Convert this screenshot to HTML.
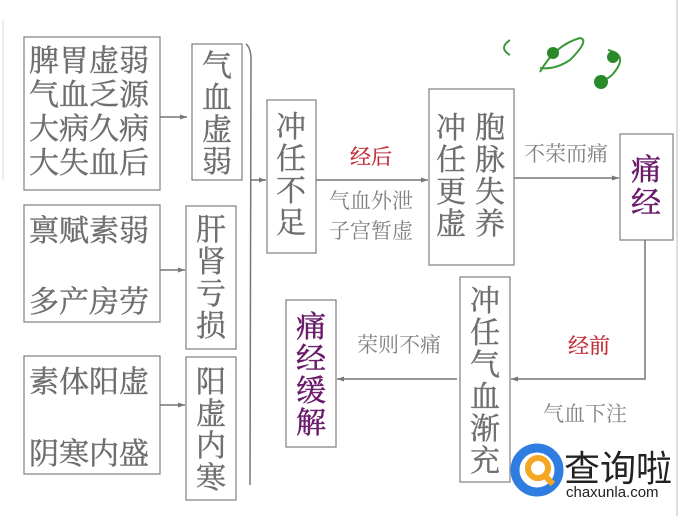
<!DOCTYPE html>
<html><head><meta charset="utf-8"><style>
html,body{margin:0;padding:0;background:#fff;}
svg{display:block;}
text{font-family:"Liberation Serif","Noto Serif CJK SC","Noto Sans CJK SC",serif;}
</style></head><body>
<svg width="681" height="516" viewBox="0 0 681 516" xmlns="http://www.w3.org/2000/svg">
<defs><marker id="ah" markerWidth="8" markerHeight="8" refX="7" refY="4" orient="auto" markerUnits="userSpaceOnUse"><path d="M0,1.5 L7,4 L0,6.5 z" fill="#777"/></marker></defs>
<rect width="681" height="516" fill="#fff"/>
<line x1="677" y1="0" x2="677" y2="516" stroke="#ddd" stroke-width="2"/>
<line x1="3" y1="20" x2="3" y2="180" stroke="#eee" stroke-width="2"/>
<g fill="none" stroke="#888" stroke-width="1.3">
<rect x="24" y="37" width="136" height="153"/>
<rect x="192" y="44" width="50" height="136"/>
<rect x="267" y="100" width="49" height="153"/>
<rect x="24" y="205" width="136" height="117"/>
<rect x="186" y="206" width="50" height="143"/>
<rect x="24" y="356" width="136" height="118"/>
<rect x="186" y="357" width="50" height="143"/>
<rect x="429" y="89" width="85" height="176"/>
<rect x="620" y="134" width="53" height="106"/>
<rect x="460" y="277" width="50" height="205"/>
<rect x="286" y="300" width="50" height="147"/>
</g>
<g stroke="#777" stroke-width="1.5" fill="none">
<path d="M246,44 Q251,48 251,60 L250,485"/>
<line x1="160" y1="117" x2="187" y2="117" marker-end="url(#ah)"/>
<line x1="160" y1="270" x2="185" y2="270" marker-end="url(#ah)"/>
<line x1="160" y1="405" x2="185" y2="405" marker-end="url(#ah)"/>
<line x1="250" y1="180" x2="266" y2="180" marker-end="url(#ah)"/>
<line x1="316" y1="180" x2="428" y2="180" marker-end="url(#ah)"/>
<line x1="514" y1="178" x2="619" y2="178" marker-end="url(#ah)"/>
<polyline points="645,240 645,379 511,379" marker-end="url(#ah)"/>
<line x1="457" y1="379" x2="337" y2="379" marker-end="url(#ah)"/>
</g>
<g fill="#6e6e6e" font-size="30" stroke="#6e6e6e" stroke-width="0.4">
<text x="29" y="71">脾胃虚弱</text>
<text x="29" y="105">气血乏源</text>
<text x="29" y="139">大病久病</text>
<text x="29" y="173">大失血后</text>
<text x="29" y="241">禀赋素弱</text>
<text x="29" y="312">多产房劳</text>
<text x="29" y="392">素体阳虚</text>
<text x="29" y="464">阴寒内盛</text>
<g text-anchor="middle">
<text x="217" y="76">气</text><text x="217" y="108">血</text><text x="217" y="140">虚</text><text x="217" y="172">弱</text>
<text x="211" y="240">肝</text><text x="211" y="272">肾</text><text x="211" y="304">亏</text><text x="211" y="336">损</text>
<text x="211" y="392">阳</text><text x="211" y="424">虚</text><text x="211" y="456">内</text><text x="211" y="488">寒</text>
<text x="291" y="137">冲</text><text x="291" y="169">任</text><text x="291" y="201">不</text><text x="291" y="233">足</text>
<text x="451" y="138">冲</text><text x="451" y="170">任</text><text x="451" y="202">更</text><text x="451" y="234">虚</text>
<text x="490" y="138">胞</text><text x="490" y="170">脉</text><text x="490" y="202">失</text><text x="490" y="234">养</text>
<text x="485" y="311">冲</text><text x="485" y="343">任</text><text x="485" y="375">气</text><text x="485" y="407">血</text><text x="485" y="439">渐</text><text x="485" y="471">充</text>
</g>
</g>
<g fill="#6a1a6a" font-size="30" text-anchor="middle" stroke="#6a1a6a" stroke-width="0.5">
<text x="646" y="180">痛</text><text x="646" y="213">经</text>
<text x="311" y="337">痛</text><text x="311" y="369">经</text><text x="311" y="401">缓</text><text x="311" y="433">解</text>
</g>
<g fill="#808080" font-size="21">
<text x="329" y="208">气血外泄</text>
<text x="329" y="238">子宫暂虚</text>
<text x="524" y="161">不荣而痛</text>
<text x="357" y="352">荣则不痛</text>
<text x="543" y="421">气血下注</text>
</g>
<g fill="#c0303a" font-size="21" stroke="#c0303a" stroke-width="0.3">
<text x="350" y="164">经后</text>
<text x="568" y="353">经前</text>
</g>
<g fill="none" stroke="#3a9a3a" stroke-width="2">
<path d="M510,40 Q498,48 510,55"/>
<path d="M540,72 Q555,45 580,38 Q590,40 570,60 Q555,70 540,68"/>
<path d="M608,50 Q630,55 612,75 Q600,85 595,80"/>
</g>
<circle cx="553" cy="53" r="6" fill="#2a8a2a"/>
<circle cx="613" cy="57" r="6" fill="#2a8a2a"/>
<circle cx="601" cy="82" r="7" fill="#2a8a2a"/>
<circle cx="537" cy="470" r="22" fill="none" stroke="#2f7de1" stroke-width="9"/>
<circle cx="538" cy="468" r="10" fill="none" stroke="#f5a623" stroke-width="6"/>
<line x1="545" y1="476" x2="553" y2="484" stroke="#f5a623" stroke-width="6"/>
<text x="564" y="481" font-size="36" fill="#222" style="font-family:'Noto Sans CJK SC',sans-serif">查询啦</text>
<text x="566" y="497" font-size="15" fill="#222" style="font-family:'Liberation Sans',sans-serif">chaxunla.com</text>
</svg>
</body></html>
